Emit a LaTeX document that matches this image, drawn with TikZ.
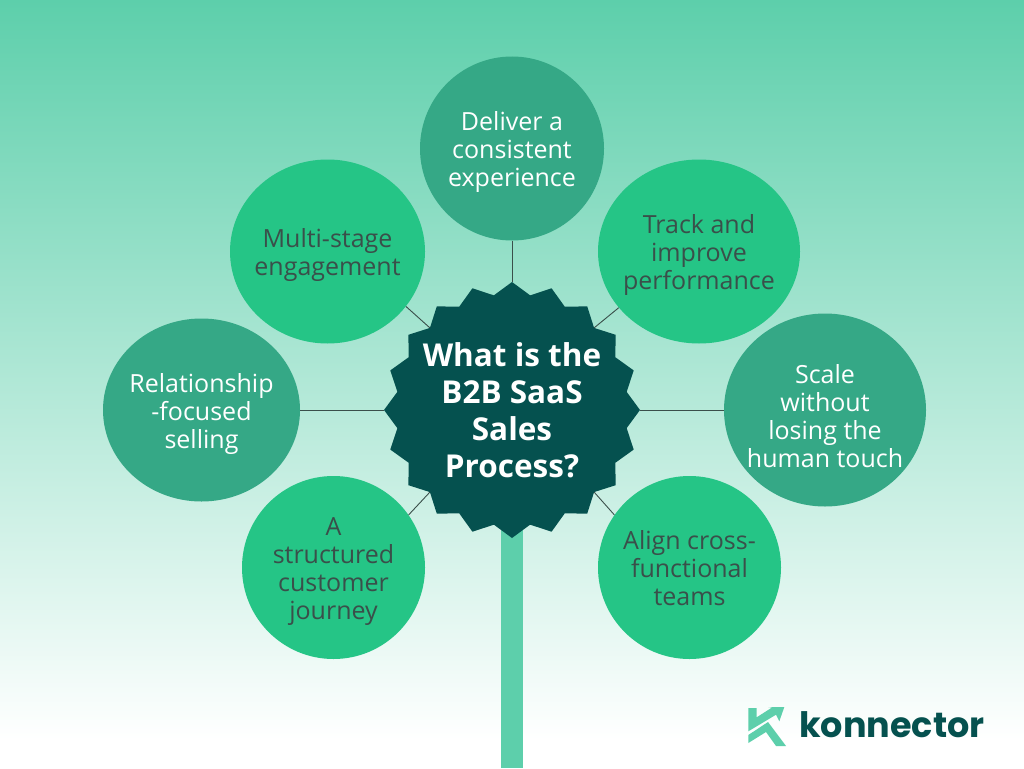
\documentclass[tikz,border=0pt]{standalone}
\usepackage{fontspec}
\setmainfont{Open Sans}
\newfontfamily\logofont{Poppins}
\usetikzlibrary{shapes.geometric}
\definecolor{deepteal}{HTML}{05514F}
\definecolor{brightgreen}{HTML}{25C586}
\definecolor{mutedgreen}{HTML}{35A886}
\definecolor{mint}{HTML}{5DCFAB}
\definecolor{inktext}{HTML}{3A4F4A}
\tikzset{
  bubble/.style={ellipse,inner sep=0pt},
  brightbubble/.style={bubble,fill=brightgreen},
  mutedbubble/.style={bubble,fill=mutedgreen},
  bubbletext/.style={align=center,inner sep=0pt,font=\fontsize{25}{28}\selectfont,text=inktext},
  mutedtext/.style={bubbletext,text=white},
  link/.style={draw=inktext,line width=0.9pt},
  burst/.style={star,star points=20,star point ratio=1.103,inner sep=0pt,minimum size=256pt,fill=deepteal}
}
\begin{document}
\begin{tikzpicture}[x=1pt,y=-1pt]
\useasboundingbox (0,0) rectangle (1024,768);
\shade[top color=mint,bottom color=white] (0,0) rectangle (1024,740);
\fill[white] (0,740) rectangle (1024,768);
\fill[mint] (501,525) rectangle (523,768);
\node[burst] (hub) at (512,410) {};
\node[mutedbubble,minimum width=184pt,minimum height=184pt,label={[mutedtext,yshift=-4pt]center:{Deliver a\\consistent\\experience}}] (top) at (512,148.5) {};
\node[brightbubble,minimum width=202pt,minimum height=184pt,label={[bubbletext,yshift=-4pt]center:{Track and\\improve\\performance}}] (track) at (699,251.5) {};
\node[brightbubble,minimum width=195pt,minimum height=184pt,label={[bubbletext,yshift=-4pt]center:{Multi-stage\\engagement}}] (multi) at (327.5,251.5) {};
\node[mutedbubble,minimum width=197pt,minimum height=183pt,label={[mutedtext,yshift=-4pt]center:{Relationship\\-focused\\selling}}] (rel) at (201.5,410) {};
\node[mutedbubble,minimum width=202pt,minimum height=193pt,label={[mutedtext,yshift=-6pt]center:{Scale\\without\\losing the\\human touch}}] (scale) at (825,410) {};
\node[brightbubble,minimum width=183pt,minimum height=183pt,label={[bubbletext,yshift=-4pt]center:{A\\structured\\customer\\journey}}] (journey) at (333.5,567.5) {};
\node[brightbubble,minimum width=183pt,minimum height=183pt,label={[bubbletext,yshift=-1pt]center:{Align cross-\\functional\\teams}}] (align) at (689.5,567.5) {};
\draw[link] (top.-90) -- (hub.90);
\draw[link] (rel.0) -- (hub.180);
\draw[link] (scale.180) -- (hub.0);
\draw[link] (multi.-35) -- (hub.135);
\draw[link] (track.215) -- (hub.45);
\draw[link] (journey.35) -- (hub.225);
\draw[link] (align.145) -- (hub.315);
\node[align=center,text=white,font=\fontsize{31.5}{37}\selectfont\bfseries] (title) at (512,410) {What is the\\B2B SaaS\\Sales\\Process?};
\fill[mint] (748.3,708) -- (756.7,708) -- (756.7,717.3) -- (772,707.5) -- (768,707) -- (784.3,707) -- (779.3,721.3) -- (776,714.7) -- (748.3,731.3) -- cycle;
\fill[mint] (748.3,735) -- (768,722) -- (786,746) -- (776,746) -- (766,732) -- (748.3,743) -- cycle;
\node[anchor=west,inner sep=0pt,text=deepteal,font=\logofont\fontsize{35}{40}\selectfont\bfseries] (logo) at (799,725) {konnector};
\end{tikzpicture}
\end{document}
